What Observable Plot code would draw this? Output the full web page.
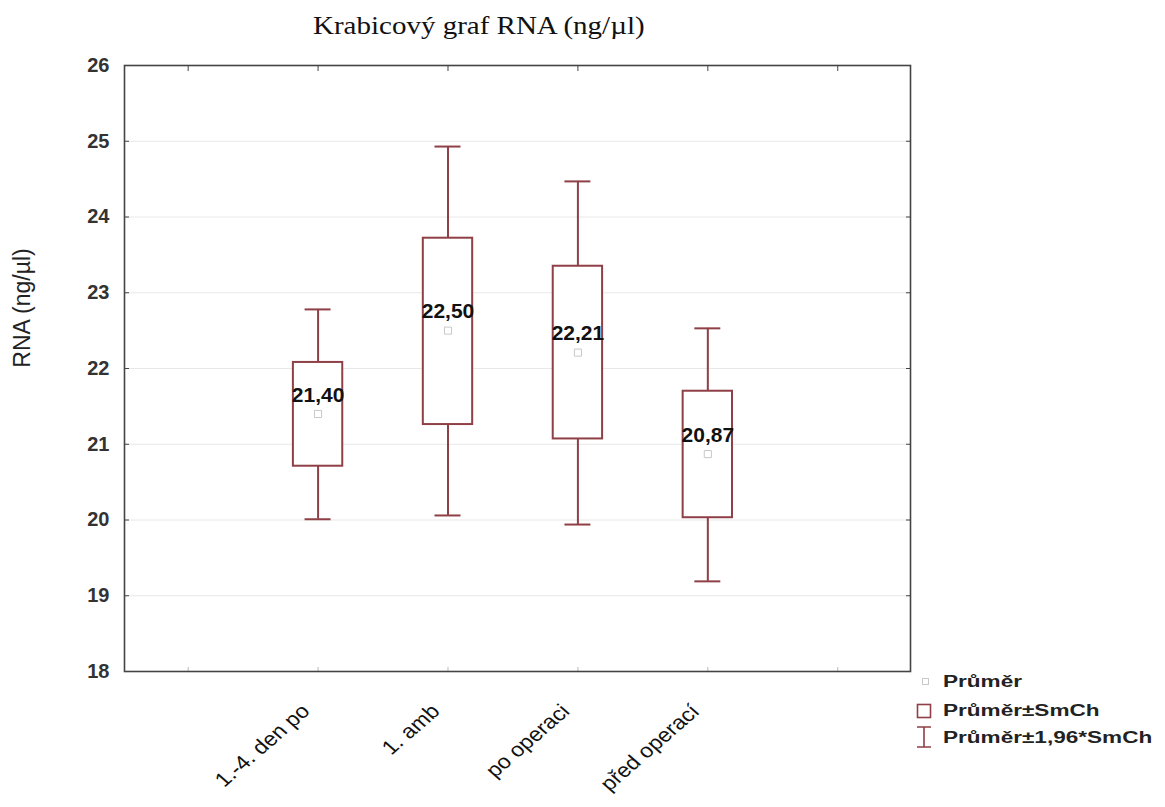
<!DOCTYPE html>
<html><head><meta charset="utf-8">
<script src="https://cdn.jsdelivr.net/npm/d3@7"></script>
<script src="https://cdn.jsdelivr.net/npm/@observablehq/plot@0.6"></script>
<style>
body{margin:0;background:#fff;}
#wrap{position:relative;width:1165px;height:807px;overflow:hidden;font-family:"Liberation Sans",Arial,sans-serif;background:#fff;}
#title{height:50px;position:relative;}
#title span{position:absolute;left:313px;top:12px;font-family:"Liberation Serif","Times New Roman",serif;font-size:25px;transform:scaleX(1.16);transform-origin:left top;white-space:nowrap;color:#111;}
#ylab{position:absolute;left:22px;top:308px;transform:translate(-50%,-50%) rotate(-90deg);font-size:23px;white-space:nowrap;color:#222;}
.lg{position:absolute;font-size:16px;line-height:16px;font-weight:bold;color:#222;white-space:nowrap;transform:scaleX(1.41);transform-origin:left center;}
</style></head>
<body>
<div id="wrap">
  <div id="title"><span>Krabicový graf RNA (ng/µl)</span></div>
  <div id="chart"></div>
  <div id="ylab">RNA (ng/µl)</div>
  <div id="legend"></div>
</div>
<script>
const categories = ["1.-4. den po", "1. amb", "po operaci", "před operací"];
const means  = [21.40, 22.50, 22.21, 20.87];
const seLow  = [20.71, 21.26, 21.07, 20.03];
const seHigh = [22.08, 23.72, 23.35, 21.70];
const ciLow  = [20.01, 20.06, 19.94, 19.19];
const ciHigh = [22.78, 24.93, 24.47, 22.53];
const yTicks = [18, 19, 20, 21, 22, 23, 24, 25, 26];
const xTicks = [0, 1, 2, 3, 4, 5];
const legendLabels = ["Průměr", "Průměr±SmCh", "Průměr±1,96*SmCh"];

const boxColor = "#8f3f46";
const rows = categories.map((c, i) => ({
  pos: i + 1, cat: c, mean: means[i], lo: seLow[i], hi: seHigh[i], wlo: ciLow[i], whi: ciHigh[i]
}));
const fmt = v => v.toFixed(2).replace(".", ",");

const chart = Plot.plot({
  width: 1165, height: 757,
  marginLeft: 124, marginRight: 255, marginTop: 15, marginBottom: 136,
  x: {domain: [-0.49, 5.56]},
  y: {domain: [18, 26]},
  style: {fontFamily: "'Liberation Sans', Arial, sans-serif", background: "white", overflow: "visible"},
  marks: [
    Plot.gridY(yTicks, {stroke: "#e8e8e8", strokeOpacity: 1}),
    Plot.axisY(yTicks, {anchor: "left", tickSize: 0, tickPadding: 15, fontSize: 20, fontWeight: "bold", fill: "#333", label: null, tickFormat: d => String(d)}),
    Plot.axisY(yTicks, {anchor: "left", tickSize: -5, stroke: "#444", label: null, tickFormat: () => ""}),
    Plot.axisY(yTicks, {anchor: "right", tickSize: -5, stroke: "#444", label: null, tickFormat: () => ""}),
    Plot.axisX(xTicks, {anchor: "top", tickSize: -5, stroke: "#444", label: null, tickFormat: () => ""}),
    Plot.axisX(xTicks, {anchor: "bottom", tickSize: -4, stroke: "#bbb", label: null, tickFormat: () => ""}),
    Plot.ruleX(rows, {x: "pos", y1: "hi", y2: "whi", stroke: boxColor, strokeWidth: 2}),
    Plot.ruleX(rows, {x: "pos", y1: "wlo", y2: "lo", stroke: boxColor, strokeWidth: 2}),
    Plot.ruleY(rows, {y: "whi", x1: d => d.pos - 0.1, x2: d => d.pos + 0.1, stroke: boxColor, strokeWidth: 2}),
    Plot.ruleY(rows, {y: "wlo", x1: d => d.pos - 0.1, x2: d => d.pos + 0.1, stroke: boxColor, strokeWidth: 2}),
    Plot.rect(rows, {x1: d => d.pos - 0.19, x2: d => d.pos + 0.19, y1: "lo", y2: "hi", fill: "white", stroke: boxColor, strokeWidth: 2}),
    Plot.dot(rows, {x: "pos", y: "mean", symbol: "square", r: 4, stroke: "#c8c8c8", strokeWidth: 1, fill: "none"}),
    Plot.text(rows, {x: "pos", y: "mean", text: d => fmt(d.mean), dy: -19, fontSize: 21, fontWeight: "bold", fill: "#111"}),
    Plot.text(categories, {x: (d, i) => i + 1, frameAnchor: "bottom", text: d => d, rotate: -45, textAnchor: "end", dy: 41, dx: -7, fontSize: 20, fill: "#111"}),
    Plot.frame({stroke: "#444", strokeWidth: 1.6})
  ]
});

// horizontal stretch of rotated category labels (as in the reference)
chart.querySelectorAll("text").forEach(t => {
  if (!categories.includes(t.textContent)) return;
  const list = t.transform.baseVal;
  const c = list.numberOfItems ? list.consolidate() : null;
  const ax = c ? c.matrix.e : 0, ay = c ? c.matrix.f : 0;
  const old = t.getAttribute("transform") || "";
  t.setAttribute("transform", `translate(${ax},${ay}) scale(1.15,1) translate(${-ax},${-ay}) ${old}`);
});
document.getElementById("chart").appendChild(chart);

// legend
const lg = document.getElementById("legend");
const tops = [682, 711, 738];
legendLabels.forEach((t, i) => {
  const s = document.createElement("div");
  s.className = "lg";
  s.style.left = "943px";
  s.style.top = (tops[i] - 8) + "px";
  s.textContent = t;
  lg.appendChild(s);
});
const sym = document.createElementNS("http://www.w3.org/2000/svg", "svg");
sym.setAttribute("width", 20); sym.setAttribute("height", 90);
sym.style.position = "absolute"; sym.style.left = "914px"; sym.style.top = "670px";
sym.innerHTML = `
  <rect x="8.5" y="8.5" width="6" height="6" fill="none" stroke="#c8c8c8"/>
  <rect x="3.5" y="34.5" width="13" height="13" fill="none" stroke="${boxColor}" stroke-width="1.6"/>
  <path d="M3,57H17M10,57V77M3,77H17" fill="none" stroke="${boxColor}" stroke-width="1.6"/>`;
lg.appendChild(sym);
</script>
</body></html>
